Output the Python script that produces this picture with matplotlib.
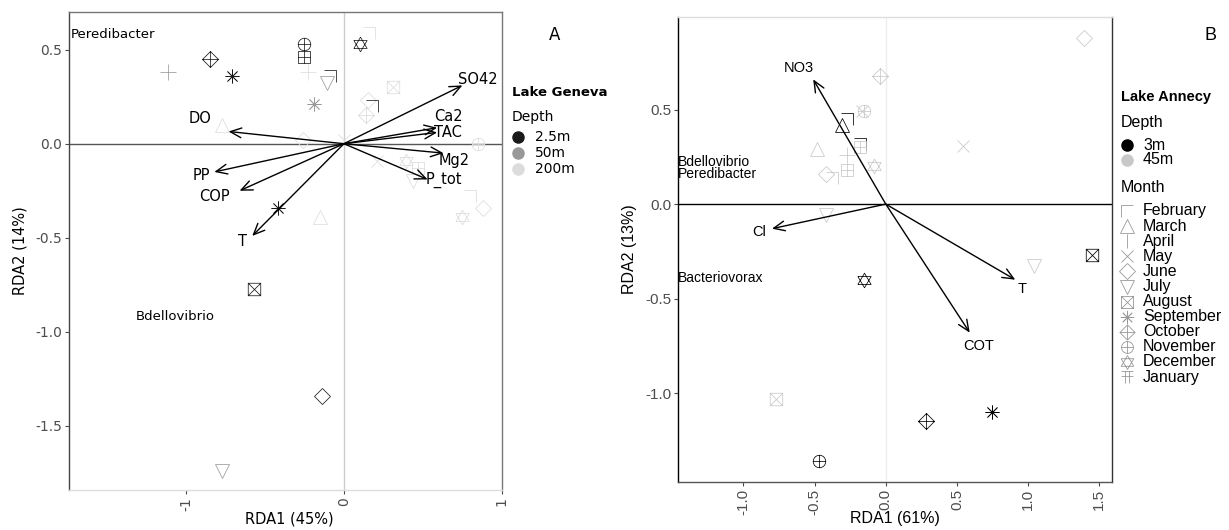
import matplotlib
matplotlib.use("Agg")
import matplotlib.pyplot as plt
from matplotlib.path import Path
from matplotlib.lines import Line2D

# ---- Lake Geneva (panel A) ----
geneva_x = [-0.85, -1.11, -0.71, -0.25, -0.25, -0.23, -0.11, -0.09, -0.19, -0.77, -0.26, 0.00,
            -0.42, -0.15, 0.10, 0.16, 0.31, 0.15, 0.18, 0.14, 0.85, 0.21, 0.39, 0.47, 0.44,
            0.80, 0.75, 0.88, -0.57, -0.14, -0.77]
geneva_y = [0.45, 0.38, 0.36, 0.53, 0.46, 0.38, 0.32, 0.36, 0.21, 0.10, 0.02, 0.02,
            -0.34, -0.39, 0.53, 0.59, 0.30, 0.23, 0.20, 0.15, 0.00, -0.09, -0.09, -0.13, -0.20,
            -0.28, -0.39, -0.34, -0.77, -1.34, -1.74]
geneva_month = ['October', 'April', 'September', 'November', 'January', 'April', 'July', 'February',
                'September', 'March', 'June', 'May', 'September', 'March', 'December', 'February',
                'August', 'June', 'February', 'October', 'November', 'May', 'December', 'January',
                'July', 'February', 'December', 'June', 'August', 'June', 'July']
geneva_depth = ['2.5m', '50m', '2.5m', '2.5m', '2.5m', '200m', '50m', '2.5m', '50m', '200m', '200m',
                '200m', '2.5m', '200m', '2.5m', '200m', '200m', '200m', '2.5m', '200m', '200m',
                '200m', '200m', '200m', '200m', '200m', '200m', '200m', '2.5m', '2.5m', '50m']
geneva_env = ['SO42', 'Ca2', 'TAC', 'Mg2', 'P_tot', 'DO', 'PP', 'COP', 'T']
geneva_env_x = [0.75, 0.59, 0.59, 0.63, 0.53, -0.73, -0.82, -0.66, -0.58]
geneva_env_y = [0.31, 0.085, 0.06, -0.05, -0.19, 0.065, -0.15, -0.25, -0.49]
geneva_species = ['Peredibacter', 'Bdellovibrio']
geneva_species_x = [-1.73, -1.32]
geneva_species_y = [0.58, -0.92]

# ---- Lake Annecy (panel B) ----
annecy_x = [-0.04, -0.15, -0.17, -0.31, -0.27, -0.18, -0.18, -0.48, -0.27, -0.27, -0.42, -0.38,
            -0.08, -0.42, 0.54, 1.39, 1.45, -0.15, -0.77, -0.47, 0.28, 1.04, 0.75]
annecy_y = [0.68, 0.49, 0.49, 0.42, 0.45, 0.32, 0.30, 0.29, 0.26, 0.18, 0.16, 0.14,
            0.20, -0.06, 0.31, 0.88, -0.27, -0.40, -1.03, -1.36, -1.15, -0.33, -1.10]
annecy_month = ['October', 'November', 'May', 'March', 'February', 'February', 'January', 'March',
                'April', 'January', 'June', 'February', 'December', 'July', 'May', 'June', 'August',
                'December', 'August', 'November', 'October', 'July', 'September']
annecy_depth = ['45m', '45m', '45m', '3m', '3m', '3m', '45m', '45m', '45m', '45m', '45m', '45m',
                '45m', '45m', '45m', '45m', '3m', '3m', '45m', '3m', '3m', '45m', '3m']
annecy_env = ['NO3', 'Cl', 'T', 'COT']
annecy_env_x = [-0.51, -0.80, 0.91, 0.59]
annecy_env_y = [0.66, -0.13, -0.40, -0.68]
annecy_species = ['Bdellovibrio\nPeredibacter', 'Bacteriovorax']
annecy_species_x = [-1.46, -1.46]
annecy_species_y = [0.19, -0.39]

months = ['February', 'March', 'April', 'May', 'June', 'July', 'August', 'September',
          'October', 'November', 'December', 'January']
geneva_colors = {'2.5m': '#1a1a1a', '50m': '#999999', '200m': '#dcdcdc'}
annecy_colors = {'3m': '#000000', '45m': '#c8c8c8'}

M, L = Path.MOVETO, Path.LINETO


def seg_path(segs):
    verts, codes = [], []
    for s in segs:
        for i, p in enumerate(s):
            verts.append(p)
            codes.append(M if i == 0 else L)
    return Path(verts, codes)


sq = [(-1, -1), (1, -1), (1, 1), (-1, 1), (-1, -1)]
dia = [(0, -1), (1, 0), (0, 1), (-1, 0), (0, -1)]
circ = Path.unit_circle()
markers = {
    'February': seg_path([[(-1, 1), (1, 1), (1, -1)]]),
    'March': '^',
    'April': '+',
    'May': 'x',
    'June': 'D',
    'July': 'v',
    'August': seg_path([sq, [(-1, -1), (1, 1)], [(-1, 1), (1, -1)]]),
    'September': (8, 2, 0),
    'October': seg_path([dia, [(-1, 0), (1, 0)], [(0, -1), (0, 1)]]),
    'November': Path.make_compound_path(circ, seg_path([[(-1, 0), (1, 0)], [(0, -1), (0, 1)]])),
    'December': seg_path([[(-1, -0.6), (1, -0.6), (0, 1.1), (-1, -0.6)],
                          [(-1, 0.6), (1, 0.6), (0, -1.1), (-1, 0.6)]]),
    'January': seg_path([sq, [(-1, 0), (1, 0)], [(0, -1), (0, 1)]]),
}
legend_markers = dict(markers)
legend_markers['February'] = seg_path([[(-1, -1), (-1, 1), (1, 1)]])
legend_markers['April'] = '|'
legend_markers['January'] = seg_path([[(-1, 1), (1, 1)], [(-0.4, 1), (-0.4, -1)],
                                      [(0.4, 1), (0.4, -1)], [(-1, 0.1), (1, 0.1)]])
sizes = {'February': 9, 'March': 10, 'April': 11, 'May': 9, 'June': 8.5, 'July': 10,
         'August': 9, 'September': 10, 'October': 11.5, 'November': 9, 'December': 10.5,
         'January': 9}

fig = plt.figure(figsize=(12.29, 5.30), dpi=100)


def draw_points(ax, xs, ys, ms, ds, colors):
    for x, y, m, d in zip(xs, ys, ms, ds):
        ax.plot(x, y, linestyle='none', marker=markers[m], markersize=sizes[m],
                markerfacecolor='none', markeredgecolor=colors[d], markeredgewidth=0.55)


def draw_arrows(ax, names, xs, ys, offsets, font):
    for n, x, y, (dx, dy) in zip(names, xs, ys, offsets):
        ax.annotate('', xy=(x, y), xytext=(0, 0),
                    arrowprops=dict(arrowstyle='->,head_length=0.8,head_width=0.35',
                                    color='black', lw=1.0, shrinkA=0, shrinkB=0))
        ax.text(x + dx, y + dy, n, fontsize=10.5, family=font, ha='center', va='center')


# ---------------- Panel A ----------------
ax1 = fig.add_axes([0.0561, 0.0755, 0.3523, 0.9019])
ax1.set_xlim(-1.74, 1.0)
ax1.set_ylim(-1.84, 0.70)
ax1.axhline(0, color='#555555', lw=1.0, zorder=0)
ax1.axvline(0, color='#cccccc', lw=1.0, zorder=0)
draw_points(ax1, geneva_x, geneva_y, geneva_month, geneva_depth, geneva_colors)
geneva_off = [(0.10, 0.03), (0.07, 0.06), (0.07, 0.0), (0.07, -0.04), (0.10, -0.0),
              (-0.18, 0.07), (-0.08, -0.02), (-0.16, -0.03), (-0.06, -0.03)]
draw_arrows(ax1, geneva_env, geneva_env_x, geneva_env_y, geneva_off, 'DejaVu Sans')
for n, x, y in zip(geneva_species, geneva_species_x, geneva_species_y):
    ax1.text(x, y, n, fontsize=9.5, ha='left', va='center')
ax1.set_xticks([-1, 0, 1])
ax1.set_xticklabels(['-1', '0', '1'], rotation=90)
ax1.set_yticks([0.5, 0.0, -0.5, -1.0, -1.5])
ax1.set_yticklabels(['0.5', '0.0', '-0.5', '-1.0', '-1.5'])
ax1.tick_params(labelsize=10, colors='#4d4d4d', length=3, width=0.8, pad=2)
ax1.set_xlabel('RDA1 (45%)', fontsize=10.5)
ax1.xaxis.set_label_coords(0.51, -0.045)
ax1.set_ylabel('RDA2 (14%)', fontsize=10.5)
ax1.yaxis.set_label_coords(-0.095, 0.5)
for s, c in zip(['left', 'top', 'right', 'bottom'], ['#444444', '#777777', '#777777', '#dddddd']):
    ax1.spines[s].set_color(c)
    ax1.spines[s].set_linewidth(1.0)

# legend A (manual, outside the axes)
fig.text(555 / 1229, 1 - 35 / 530, 'A', fontsize=12, ha='center', va='center')
fig.text(512 / 1229, 1 - 93 / 530, 'Lake Geneva', fontsize=9.5, fontweight='bold', va='center')
fig.text(512 / 1229, 1 - 117 / 530, 'Depth', fontsize=10, va='center')
for i, d in enumerate(['2.5m', '50m', '200m']):
    yy = 1 - (137 + 16 * i) / 530
    fig.add_artist(Line2D([518 / 1229], [yy], marker='o', markersize=8, linestyle='none',
                          color=geneva_colors[d], transform=fig.transFigure))
    fig.text(535 / 1229, yy, d, fontsize=10, va='center')

# ---------------- Panel B ----------------
ax2 = fig.add_axes([0.5517, 0.0906, 0.3531, 0.8774])
ax2.set_xlim(-1.46, 1.59)
ax2.set_ylim(-1.47, 0.99)
ax2.axhline(0, color='black', lw=1.0, zorder=0)
ax2.axvline(0, color='#eeeeee', lw=1.0, zorder=0)
draw_points(ax2, annecy_x, annecy_y, annecy_month, annecy_depth, annecy_colors)
annecy_off = [(-0.10, 0.06), (-0.09, -0.02), (0.05, -0.05), (0.06, -0.07)]
draw_arrows(ax2, annecy_env, annecy_env_x, annecy_env_y, annecy_off, 'Liberation Sans')
for n, x, y in zip(annecy_species, annecy_species_x, annecy_species_y):
    ax2.text(x, y, n, fontsize=10, family='Liberation Sans', ha='left', va='center',
             linespacing=0.85)
ax2.set_xticks([-1.0, -0.5, 0.0, 0.5, 1.0, 1.5])
ax2.set_xticklabels(['-1.0', '-0.5', '0.0', '0.5', '1.0', '1.5'], rotation=90,
                    family='Liberation Sans')
ax2.set_yticks([0.5, 0.0, -0.5, -1.0])
ax2.set_yticklabels(['0.5', '0.0', '-0.5', '-1.0'], family='Liberation Sans')
ax2.tick_params(labelsize=11, colors='#4d4d4d', length=3, width=0.8, pad=2)
ax2.set_xlabel('RDA1 (61%)', fontsize=11.5, family='Liberation Sans')
ax2.xaxis.set_label_coords(0.5, -0.062)
ax2.set_ylabel('RDA2 (13%)', fontsize=11.5, family='Liberation Sans', labelpad=6)
for s, c in zip(['left', 'top', 'right', 'bottom'], ['#000000', '#dddddd', '#333333', '#555555']):
    ax2.spines[s].set_color(c)
    ax2.spines[s].set_linewidth(1.0)

# legend B
fig.text(1210 / 1229, 1 - 35 / 530, 'B', fontsize=13, family='Liberation Sans',
         ha='center', va='center')
fig.text(1121 / 1229, 1 - 97 / 530, 'Lake Annecy', fontsize=10.5, fontweight='bold',
         family='Liberation Sans', va='center')
fig.text(1121 / 1229, 1 - 122 / 530, 'Depth', fontsize=11.5, family='Liberation Sans', va='center')
for i, d in enumerate(['3m', '45m']):
    yy = 1 - (145 + 15 * i) / 530
    fig.add_artist(Line2D([1127 / 1229], [yy], marker='o', markersize=8, linestyle='none',
                          color=annecy_colors[d], transform=fig.transFigure))
    fig.text(1143 / 1229, yy, d, fontsize=11.5, family='Liberation Sans', va='center')
fig.text(1121 / 1229, 1 - 187 / 530, 'Month', fontsize=11.5, family='Liberation Sans',
         va='center')
for i, m in enumerate(months):
    yy = 1 - (211 + 15.1 * i) / 530
    fig.add_artist(Line2D([1127 / 1229], [yy], marker=legend_markers[m],
                          markersize=sizes[m] * 0.95, linestyle='none',
                          markerfacecolor='none', markeredgecolor='#999999',
                          markeredgewidth=0.6, transform=fig.transFigure))
    fig.text(1143 / 1229, yy, m, fontsize=11.5, family='Liberation Sans', va='center')

fig.savefig('out.png', dpi=100)
